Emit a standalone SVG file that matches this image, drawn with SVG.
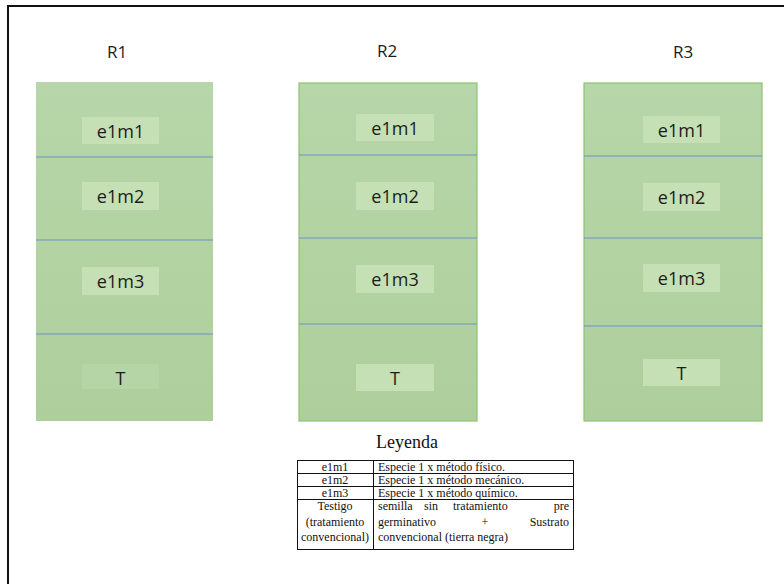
<svg xmlns="http://www.w3.org/2000/svg" width="784" height="584" viewBox="0 0 784 584">
  <defs>
    <linearGradient id="plot" x1="0" y1="0" x2="0" y2="1">
      <stop offset="0" stop-color="#b7d6a9"/>
      <stop offset="1" stop-color="#aecf9c"/>
    </linearGradient>
    <style>
      .col { fill: url(#plot); }
      .col-edge { fill: url(#plot); stroke: #8fc270; stroke-width: 1.2; }
      .sep { stroke: #6a94c6; stroke-width: 1.2; }
      .tag { fill: #c5e0b4; }
      .tag-dim { fill: #b6d5a7; }
      .lbl { font-family: "Open Sans", "Liberation Sans", sans-serif; font-size: 18px; fill: #1c1c1c; text-anchor: middle; }
      .head { font-family: "Open Sans", "Liberation Sans", sans-serif; font-size: 17px; fill: #1c1c1c; text-anchor: middle; }
      .serif { font-family: "Liberation Serif", "Times New Roman", serif; font-size: 12px; fill: #111; }
      .mid { text-anchor: middle; }
      .grid { fill: none; stroke: #111; stroke-width: 1; }
    </style>
  </defs>

  <rect width="784" height="584" fill="#ffffff"/>
  <!-- page frame -->
  <rect x="8" y="6" width="800" height="600" fill="none" stroke="#111" stroke-width="2"/>

  <!-- replicate R1 -->
  <g id="r1">
    <text class="head" x="117" y="58">R1</text>
    <rect class="col" x="36" y="82" width="177" height="339"/>
    <line class="sep" x1="36" y1="157" x2="213" y2="157"/>
    <line class="sep" x1="36" y1="240" x2="213" y2="240"/>
    <line class="sep" x1="36" y1="334" x2="213" y2="334"/>
    <rect class="tag" x="82" y="117" width="77" height="27"/>
    <text class="lbl" x="120.5" y="138">e1m1</text>
    <rect class="tag" x="82" y="182" width="77" height="28"/>
    <text class="lbl" x="120.5" y="203">e1m2</text>
    <rect class="tag" x="82" y="267" width="77" height="28"/>
    <text class="lbl" x="120.5" y="288">e1m3</text>
    <rect class="tag-dim" x="82" y="364" width="77" height="25"/>
    <text class="lbl" x="120.5" y="385">T</text>
  </g>

  <!-- replicate R2 -->
  <g id="r2">
    <text class="head" x="387" y="57">R2</text>
    <rect class="col-edge" x="299" y="83" width="178" height="338"/>
    <line class="sep" x1="299" y1="155" x2="477" y2="155"/>
    <line class="sep" x1="299" y1="238" x2="477" y2="238"/>
    <line class="sep" x1="299" y1="324" x2="477" y2="324"/>
    <rect class="tag" x="356" y="114" width="78" height="27"/>
    <text class="lbl" x="395" y="135">e1m1</text>
    <rect class="tag" x="356" y="182" width="78" height="28"/>
    <text class="lbl" x="395" y="203">e1m2</text>
    <rect class="tag" x="356" y="265" width="78" height="28"/>
    <text class="lbl" x="395" y="286">e1m3</text>
    <rect class="tag" x="356" y="364" width="78" height="27"/>
    <text class="lbl" x="395" y="385">T</text>
  </g>

  <!-- replicate R3 -->
  <g id="r3">
    <text class="head" x="683" y="58">R3</text>
    <rect class="col-edge" x="584" y="83" width="178" height="338"/>
    <line class="sep" x1="584" y1="156" x2="762" y2="156"/>
    <line class="sep" x1="584" y1="238" x2="762" y2="238"/>
    <line class="sep" x1="584" y1="326" x2="762" y2="326"/>
    <rect class="tag" x="643" y="116" width="77" height="27"/>
    <text class="lbl" x="681.5" y="137">e1m1</text>
    <rect class="tag" x="643" y="183" width="77" height="28"/>
    <text class="lbl" x="681.5" y="204">e1m2</text>
    <rect class="tag" x="643" y="264" width="77" height="28"/>
    <text class="lbl" x="681.5" y="285">e1m3</text>
    <rect class="tag" x="643" y="359" width="77" height="27"/>
    <text class="lbl" x="681.5" y="380">T</text>
  </g>

  <!-- legend table -->
  <g id="legend">
    <text class="serif mid" x="407" y="448" style="font-size:18px">Leyenda</text>
    <rect class="grid" x="297.5" y="460.5" width="276" height="89"/>
    <line class="grid" x1="373.5" y1="460.5" x2="373.5" y2="549.5"/>
    <line class="grid" x1="297.5" y1="473.5" x2="573.5" y2="473.5"/>
    <line class="grid" x1="297.5" y1="486.5" x2="573.5" y2="486.5"/>
    <line class="grid" x1="297.5" y1="499.5" x2="573.5" y2="499.5"/>

    <text class="serif mid" x="335" y="470.5">e1m1</text>
    <text class="serif" x="378" y="470.5">Especie 1 x método físico.</text>
    <text class="serif mid" x="335" y="483.5">e1m2</text>
    <text class="serif" x="378" y="483.5">Especie 1 x método mecánico.</text>
    <text class="serif mid" x="335" y="496.5">e1m3</text>
    <text class="serif" x="378" y="496.5">Especie 1 x método químico.</text>

    <text class="serif mid" x="335" y="510">Testigo</text>
    <text class="serif mid" x="335" y="526">(tratamiento</text>
    <text class="serif mid" x="335" y="541">convencional)</text>

    <text class="serif" x="378" y="510">semilla</text>
    <text class="serif" x="424" y="510">sin</text>
    <text class="serif" x="453" y="510">tratamiento</text>
    <text class="serif" x="569" y="510" text-anchor="end">pre</text>
    <text class="serif" x="378" y="526">germinativo</text>
    <text class="serif mid" x="485" y="526">+</text>
    <text class="serif" x="569" y="526" text-anchor="end">Sustrato</text>
    <text class="serif" x="378" y="541">convencional (tierra negra)</text>
  </g>
</svg>
